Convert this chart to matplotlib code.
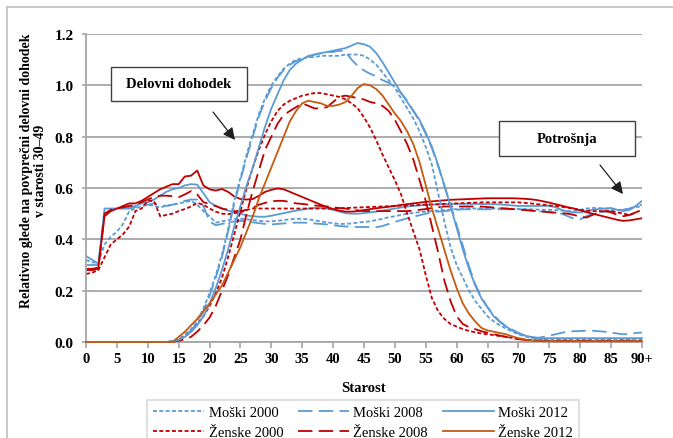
import matplotlib
matplotlib.use('Agg')
import matplotlib.pyplot as plt
from matplotlib.patches import Rectangle

plt.rcParams['font.family'] = ['Liberation Serif', 'DejaVu Serif']

ages = list(range(91))
tick_ages = list(range(0, 91, 5))
tick_labels = [str(a) for a in range(0, 90, 5)] + ['90+']

# labour income profiles (delovni dohodek)
m2000_inc = [0, 0, 0, 0, 0, 0, 0, 0, 0, 0, 0, 0, 0, 0,
             0.003, 0.01, 0.03, 0.05, 0.08, 0.13, 0.19, 0.26, 0.34, 0.44,
             0.55, 0.64, 0.73, 0.81, 0.89, 0.95, 1.0, 1.035, 1.065, 1.085,
             1.10, 1.105, 1.11, 1.11, 1.115, 1.115, 1.115, 1.115, 1.12, 1.12,
             1.12, 1.115, 1.10, 1.08, 1.05, 1.02, 0.99, 0.95, 0.91, 0.87,
             0.82, 0.76, 0.69, 0.58, 0.47, 0.37, 0.30, 0.25, 0.20, 0.16,
             0.13, 0.10, 0.08, 0.065, 0.052, 0.04, 0.03, 0.022, 0.017, 0.013,
             0.01, 0.008, 0.008, 0.008, 0.008, 0.008, 0.008, 0.008, 0.008, 0.008,
             0.008, 0.008, 0.008, 0.008, 0.008, 0.008, 0.008]
m2008_inc = [0, 0, 0, 0, 0, 0, 0, 0, 0, 0, 0, 0, 0, 0,
             0.002, 0.008, 0.025, 0.045, 0.075, 0.12, 0.18, 0.25, 0.33, 0.43,
             0.54, 0.63, 0.72, 0.80, 0.88, 0.94, 0.99, 1.03, 1.06, 1.08,
             1.095, 1.10, 1.11, 1.12, 1.125, 1.13, 1.13, 1.135, 1.13, 1.10,
             1.075, 1.058, 1.045, 1.035, 1.02, 1.01, 0.995, 0.97, 0.94, 0.90,
             0.86, 0.81, 0.755, 0.685, 0.61, 0.535, 0.455, 0.375, 0.295, 0.225,
             0.175, 0.135, 0.105, 0.08, 0.062, 0.048, 0.036, 0.026, 0.018, 0.015,
             0.02, 0.025, 0.03, 0.036, 0.04, 0.042, 0.043, 0.044, 0.044, 0.042,
             0.04, 0.037, 0.033, 0.03, 0.032, 0.035, 0.037]
m2012_inc = [0, 0, 0, 0, 0, 0, 0, 0, 0, 0, 0, 0, 0, 0,
             0.002, 0.008, 0.02, 0.04, 0.065, 0.10, 0.15, 0.21, 0.28, 0.36,
             0.45, 0.53, 0.61, 0.68, 0.76, 0.84, 0.91, 0.965, 1.02, 1.06,
             1.085, 1.10, 1.115, 1.12, 1.125, 1.13, 1.135, 1.14, 1.145, 1.155,
             1.165, 1.16, 1.15, 1.125, 1.09, 1.05, 1.01, 0.97, 0.935, 0.90,
             0.865, 0.815, 0.76, 0.69, 0.61, 0.53, 0.445, 0.36, 0.285, 0.22,
             0.17, 0.135, 0.10, 0.078, 0.06, 0.045, 0.033, 0.025, 0.02, 0.017,
             0.015, 0.015, 0.015, 0.015, 0.015, 0.015, 0.015, 0.015, 0.015, 0.015,
             0.015, 0.015, 0.015, 0.015, 0.015, 0.015, 0.015]
f2000_inc = [0, 0, 0, 0, 0, 0, 0, 0, 0, 0, 0, 0, 0, 0,
             0.002, 0.01, 0.02, 0.04, 0.07, 0.10, 0.14, 0.19, 0.25, 0.33,
             0.42, 0.51, 0.60, 0.68, 0.75, 0.81, 0.86, 0.90, 0.925, 0.94,
             0.95, 0.96, 0.965, 0.97, 0.97, 0.965, 0.96, 0.955, 0.945, 0.93,
             0.91, 0.875, 0.835, 0.785, 0.73, 0.68, 0.63, 0.575, 0.50, 0.43,
             0.36, 0.26, 0.17, 0.12, 0.09, 0.07, 0.06, 0.05, 0.043, 0.038,
             0.033, 0.03, 0.027, 0.023, 0.02, 0.016, 0.013, 0.01, 0.008, 0.006,
             0.005, 0.003, 0.003, 0.003, 0.003, 0.003, 0.003, 0.003, 0.003, 0.003,
             0.003, 0.003, 0.003, 0.003, 0.003, 0.003, 0.003]
f2008_inc = [0, 0, 0, 0, 0, 0, 0, 0, 0, 0, 0, 0, 0, 0,
             0.0, 0.005, 0.01, 0.02, 0.04, 0.065, 0.095, 0.14, 0.20, 0.26,
             0.33, 0.40, 0.50, 0.59, 0.67, 0.75, 0.80, 0.85, 0.885, 0.90,
             0.915, 0.93, 0.92, 0.91, 0.91, 0.915, 0.935, 0.955, 0.96, 0.955,
             0.95, 0.945, 0.935, 0.93, 0.92, 0.90, 0.865, 0.82, 0.77, 0.71,
             0.63, 0.55, 0.45, 0.35, 0.24, 0.16, 0.10, 0.07, 0.058, 0.05,
             0.042, 0.036, 0.03, 0.025, 0.02, 0.015, 0.011, 0.008, 0.005, 0.005,
             0.005, 0.005, 0.005, 0.005, 0.005, 0.005, 0.005, 0.005, 0.005, 0.005,
             0.005, 0.005, 0.005, 0.005, 0.005, 0.005, 0.005]
f2012_inc = [0, 0, 0, 0, 0, 0, 0, 0, 0, 0, 0, 0, 0, 0, 0,
             0.02, 0.04, 0.065, 0.09, 0.12, 0.15, 0.185, 0.22, 0.27, 0.32,
             0.37, 0.43, 0.49, 0.56, 0.62, 0.68, 0.74, 0.80, 0.86, 0.90,
             0.93, 0.94, 0.935, 0.93, 0.92, 0.92, 0.925, 0.935, 0.96, 0.99,
             1.005, 1.0, 0.985, 0.96, 0.925, 0.89, 0.86, 0.82, 0.77, 0.70,
             0.61, 0.52, 0.44, 0.36, 0.28, 0.21, 0.15, 0.11, 0.08, 0.055,
             0.045, 0.04, 0.035, 0.03, 0.022, 0.015, 0.01, 0.006, 0.004,
             0.003, 0.003, 0.003, 0.003, 0.003, 0.003, 0.003, 0.003, 0.003, 0.003,
             0.003, 0.003, 0.003, 0.003, 0.003, 0.003, 0.003]

# consumption profiles (potrosnja)
m2000_con = [0.32, 0.31, 0.31, 0.38, 0.41, 0.43, 0.46, 0.51, 0.52, 0.53,
             0.535, 0.53, 0.525, 0.53, 0.535, 0.54, 0.545, 0.55, 0.535, 0.51,
             0.49, 0.465, 0.47, 0.475, 0.48, 0.48, 0.478, 0.475, 0.472, 0.47,
             0.47, 0.472, 0.475, 0.478, 0.48, 0.48, 0.478, 0.474, 0.47, 0.466,
             0.463, 0.46, 0.46, 0.462, 0.465, 0.468, 0.47, 0.475, 0.48, 0.486,
             0.49, 0.495, 0.5, 0.503, 0.506, 0.508, 0.51, 0.512, 0.514, 0.516,
             0.518, 0.52, 0.52, 0.52, 0.521, 0.521, 0.52, 0.52, 0.52, 0.519,
             0.518, 0.518, 0.517, 0.516, 0.515, 0.515, 0.514, 0.512, 0.51, 0.51,
             0.515, 0.52, 0.522, 0.522, 0.52, 0.518, 0.515, 0.515, 0.52, 0.525, 0.53]
m2008_con = [0.30, 0.30, 0.30, 0.50, 0.51, 0.52, 0.52, 0.52, 0.525, 0.53,
             0.535, 0.54, 0.535, 0.53, 0.535, 0.54, 0.55, 0.555, 0.555, 0.53,
             0.47, 0.455, 0.46, 0.465, 0.47, 0.472, 0.47, 0.466, 0.463, 0.46,
             0.458, 0.46, 0.462, 0.464, 0.465, 0.465, 0.464, 0.462, 0.46, 0.458,
             0.455, 0.452, 0.45, 0.449, 0.448, 0.448, 0.448, 0.447, 0.452, 0.46,
             0.468, 0.475, 0.482, 0.488, 0.494, 0.5, 0.505, 0.508, 0.51, 0.512,
             0.515, 0.517, 0.517, 0.517, 0.517, 0.517, 0.517, 0.517, 0.517, 0.517,
             0.517, 0.515, 0.512, 0.51, 0.508, 0.505, 0.502, 0.5, 0.49, 0.48,
             0.478, 0.49, 0.5, 0.505, 0.508, 0.51, 0.512, 0.515, 0.52, 0.528, 0.535]
m2012_con = [0.335, 0.32, 0.305, 0.52, 0.52, 0.52, 0.52, 0.525, 0.53, 0.54,
             0.545, 0.555, 0.57, 0.585, 0.595, 0.6, 0.61, 0.615, 0.613, 0.58,
             0.545, 0.53, 0.52, 0.512, 0.505, 0.5, 0.493, 0.49, 0.488, 0.488,
             0.492, 0.497, 0.502, 0.507, 0.512, 0.516, 0.52, 0.522, 0.522, 0.52,
             0.515, 0.508, 0.502, 0.5, 0.5, 0.502, 0.505, 0.508, 0.512, 0.516,
             0.52, 0.524, 0.528, 0.53, 0.532, 0.534, 0.535, 0.536, 0.537, 0.537,
             0.538, 0.538, 0.538, 0.538, 0.538, 0.537, 0.537, 0.536, 0.534, 0.532,
             0.53, 0.53, 0.53, 0.53, 0.53, 0.53, 0.525, 0.515, 0.508, 0.505,
             0.505, 0.51, 0.515, 0.518, 0.52, 0.522, 0.515, 0.51, 0.515, 0.53, 0.55]
f2000_con = [0.265, 0.27, 0.28, 0.33, 0.38, 0.40, 0.42, 0.45, 0.51, 0.52,
             0.55, 0.55, 0.49, 0.495, 0.5, 0.51, 0.518, 0.528, 0.542, 0.535,
             0.52, 0.508, 0.5, 0.498, 0.502, 0.505, 0.515, 0.52, 0.52, 0.52,
             0.52, 0.52, 0.52, 0.52, 0.52, 0.52, 0.52, 0.52, 0.52, 0.52,
             0.52, 0.521, 0.522, 0.523, 0.524, 0.525, 0.526, 0.527, 0.528, 0.529,
             0.53, 0.531, 0.532, 0.533, 0.534, 0.535, 0.536, 0.537, 0.538, 0.539,
             0.54, 0.541, 0.542, 0.543, 0.544, 0.544, 0.544, 0.544, 0.544, 0.544,
             0.544, 0.542, 0.54, 0.537, 0.535, 0.532, 0.53, 0.527, 0.523, 0.519,
             0.515, 0.512, 0.51, 0.51, 0.51, 0.51, 0.505, 0.5, 0.495, 0.505, 0.515]
f2008_con = [0.28, 0.28, 0.285, 0.50, 0.515, 0.52, 0.525, 0.53, 0.535, 0.545,
             0.555, 0.565, 0.57, 0.57, 0.568, 0.564, 0.575, 0.588, 0.575, 0.545,
             0.537, 0.53, 0.52, 0.515, 0.51, 0.51, 0.515, 0.522, 0.535, 0.542,
             0.548, 0.55, 0.55, 0.545, 0.54, 0.538, 0.535, 0.532, 0.53, 0.528,
             0.525, 0.522, 0.52, 0.516, 0.513, 0.51, 0.51, 0.51, 0.51, 0.51,
             0.51, 0.51, 0.51, 0.512, 0.515, 0.518, 0.522, 0.525, 0.528, 0.528,
             0.528, 0.528, 0.528, 0.528, 0.528, 0.526, 0.524, 0.522, 0.52, 0.518,
             0.516, 0.514, 0.512, 0.51, 0.508, 0.506, 0.504, 0.502, 0.5, 0.495,
             0.488, 0.485, 0.495, 0.505, 0.51, 0.505, 0.495, 0.49, 0.495, 0.505, 0.51]
f2012_con = [0.285, 0.285, 0.29, 0.49, 0.51, 0.52, 0.53, 0.54, 0.54, 0.55,
             0.565, 0.58, 0.595, 0.605, 0.615, 0.615, 0.645, 0.648, 0.668, 0.61,
             0.595, 0.59, 0.596, 0.585, 0.567, 0.557, 0.555, 0.557, 0.57, 0.585,
             0.593, 0.598, 0.595, 0.585, 0.575, 0.565, 0.555, 0.545, 0.535, 0.525,
             0.518, 0.512, 0.508, 0.508, 0.51, 0.514, 0.518, 0.521, 0.524, 0.527,
             0.53, 0.534, 0.537, 0.54, 0.543, 0.546, 0.548, 0.55, 0.552, 0.554,
             0.555, 0.556, 0.557, 0.558, 0.559, 0.56, 0.56, 0.56, 0.56, 0.56,
             0.559, 0.558, 0.556, 0.553, 0.548, 0.543, 0.537, 0.531, 0.525, 0.52,
             0.513, 0.506, 0.5, 0.494, 0.488, 0.482, 0.476, 0.472, 0.474, 0.478, 0.482]

BLUE = '#5B9BD5'
RED = '#C00000'
ORANGE = '#C55A11'
SHORT = (2.2, 1.3)
LONG = (8, 3.5)
LW = 1.3

fig = plt.figure(figsize=(6.73, 4.39), dpi=100)
ax = fig.add_axes([86 / 673, 96 / 439, 556 / 673, 308 / 439])

# consumption lines
ax.plot(ages, m2000_con, color=BLUE, lw=LW, dashes=SHORT)
ax.plot(ages, m2008_con, color=BLUE, lw=LW, dashes=LONG)
ax.plot(ages, m2012_con, color=BLUE, lw=LW)
ax.plot(ages, f2000_con, color=RED, lw=LW, dashes=SHORT)
ax.plot(ages, f2008_con, color=RED, lw=LW, dashes=LONG)
ax.plot(ages, f2012_con, color=RED, lw=LW)

# labour income lines (these carry the legend); unclipped so the zero stretch shows
kw = dict(lw=LW, clip_on=False, zorder=3)
ax.plot(ages, m2000_inc, color=BLUE, dashes=SHORT, label='Moški 2000', **kw)
ax.plot(ages, f2000_inc, color=RED, dashes=SHORT, label='Ženske 2000', **kw)
ax.plot(ages, m2008_inc, color=BLUE, dashes=LONG, label='Moški 2008', **kw)
ax.plot(ages, f2008_inc, color=RED, dashes=LONG, label='Ženske 2008', **kw)
ax.plot(ages, m2012_inc, color=BLUE, label='Moški 2012', **kw)
ax.plot(ages, f2012_inc, color=ORANGE, label='Ženske 2012', **kw)

ax.set_xlim(0, 90)
ax.set_ylim(0, 1.2)
ax.set_xticks(tick_ages)
ax.set_xticklabels(tick_labels, fontsize=10.5, fontweight='bold')
ax.set_yticks([0, 0.2, 0.4, 0.6, 0.8, 1.0, 1.2])
ax.set_yticklabels(['0.0', '0.2', '0.4', '0.6', '0.8', '1.0', '1.2'],
                   fontsize=11, fontweight='bold')
ax.yaxis.grid(True, color='#a6a6a6', lw=1.3)
ax.set_axisbelow(True)
for s in ['top', 'right']:
    ax.spines[s].set_visible(False)
for s in ['left', 'bottom']:
    ax.spines[s].set_color('#a6a6a6')
    ax.spines[s].set_linewidth(1.3)
    ax.spines[s].set_zorder(2)
ax.tick_params(axis='x', length=4, color='#a6a6a6', width=1.2, pad=3)
ax.tick_params(axis='y', length=3, color='#a6a6a6', width=1.2, pad=6)

ax.set_xlabel('Starost', fontsize=10.5, fontweight='bold', labelpad=12)
fig.text(34 / 673, 1 - 171 / 439,
         'Relativno glede na povprečni delovni dohodek\nv starosti 30–49',
         rotation=90, ha='center', va='center', fontsize=10,
         fontweight='bold', linespacing=1.1, multialignment='center')

leg = fig.legend(loc='upper center', bbox_to_anchor=(363 / 673, 1 - 394 / 439),
                 ncol=3, fontsize=10.5, frameon=True, fancybox=False,
                 handlelength=3.5, handletextpad=0.3, columnspacing=1.0,
                 borderpad=0.4, labelspacing=0.45)
leg.get_frame().set_edgecolor('#d9d9d9')
leg.get_frame().set_linewidth(1.5)

# annotation boxes
for (x0, y0, w, h, txt) in [(111, 68, 136, 34, 'Delovni dohodek'),
                            (499, 122, 136, 35, 'Potrošnja')]:
    fig.patches.append(Rectangle((x0, 439 - y0 - h), w, h, transform=None,
                                 facecolor='white', edgecolor='#404040', lw=1.0,
                                 zorder=5))
    fig.text((x0 + w / 2) / 673, 1 - (y0 + h / 2) / 439, txt, ha='center',
             va='center', fontsize=10.5, fontweight='bold', zorder=6)

arrow = dict(arrowstyle='-|>', color='#202020', lw=0.9, mutation_scale=18,
             shrinkA=0, shrinkB=0)
ax.annotate('', xy=(235, 439 - 141), xytext=(213, 439 - 113),
            xycoords='figure pixels', textcoords='figure pixels', arrowprops=arrow)
ax.annotate('', xy=(623, 439 - 195), xytext=(600, 439 - 166),
            xycoords='figure pixels', textcoords='figure pixels', arrowprops=arrow)

# outer chart border
fig.patches.append(Rectangle((7, -10), 700, 439 - 8 + 10, transform=None,
                             facecolor='none', edgecolor='#bfbfbf', lw=1.2))

fig.savefig('out.png', dpi=100)
